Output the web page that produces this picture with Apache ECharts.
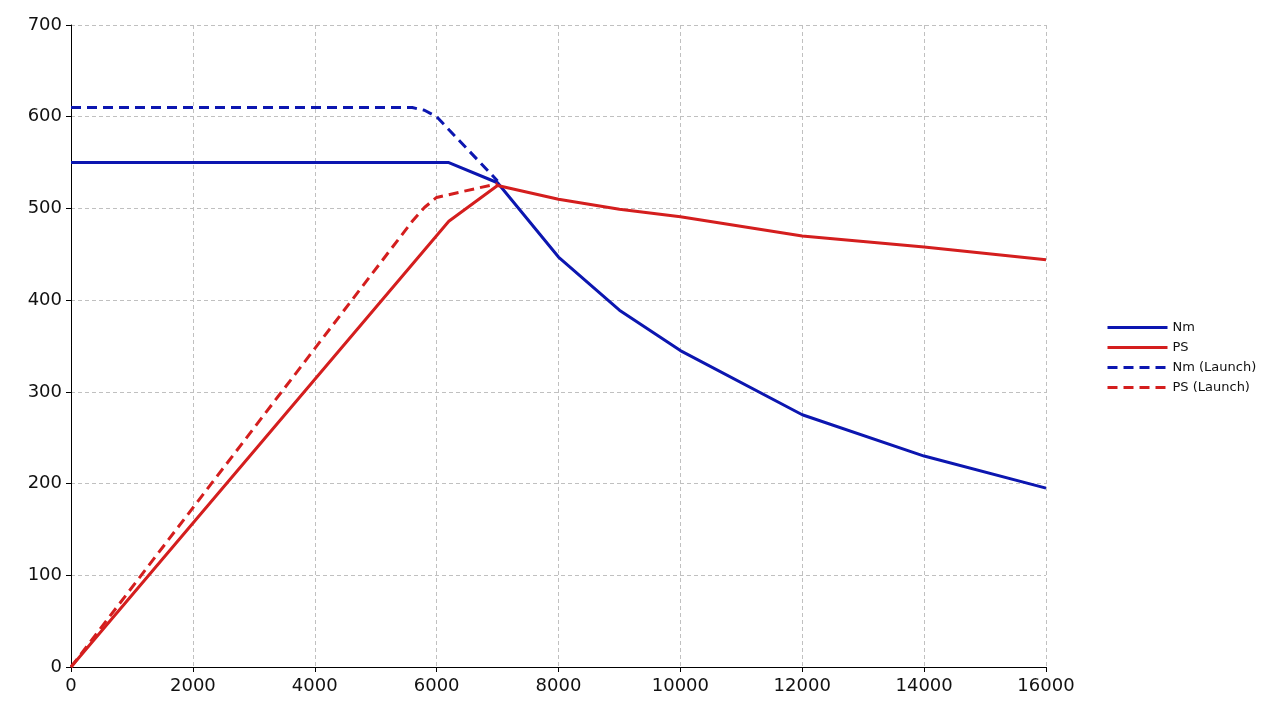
<!DOCTYPE html>
<html><head><meta charset="utf-8">
<script src="https://cdn.jsdelivr.net/npm/echarts@6/dist/echarts.min.js"></script>
<style>html,body{margin:0;padding:0;background:#fff}#c{width:1269px;height:714px}</style>
</head><body><div id="c"></div>
<script>
var seriesNames = ['Nm', 'PS', 'Nm (Launch)', 'PS (Launch)'];
var xTicks = [0, 2000, 4000, 6000, 8000, 10000, 12000, 14000, 16000];
var yTicks = [0, 100, 200, 300, 400, 500, 600, 700];
var nmData = [[0, 550], [6200, 550], [7000, 528], [8000, 447], [9000, 389], [10000, 345], [12000, 275], [14000, 230], [16000, 195]];
var psData = [[0, 0], [6200, 486], [7000, 525], [8000, 510], [9000, 499], [10000, 491], [12000, 470], [14000, 458], [16000, 444]];
var nmLaunch = [[0, 610], [5600, 610], [5800, 607], [6000, 600], [7000, 530]];
var psLaunch = [[0, 0], [5600, 486], [5800, 501], [6000, 512], [7000, 527]];

var blue = '#0c16b0', red = '#d41e1e';
var font = 'DejaVu Sans';
var chart = echarts.init(document.getElementById('c'), null, {renderer: 'canvas'});
function mk(name, data, color, dashed) {
  return {
    name: name, type: 'line', data: data, symbol: 'none', smooth: false,
    lineStyle: {color: color, width: 3, type: dashed ? [10, 6] : 'solid'},
    itemStyle: {color: color}
  };
}
chart.setOption({
  animation: false,
  grid: {left: 71, right: 223, top: 25, bottom: 47},
  legend: {
    orient: 'vertical', left: 1106, top: 321, padding: 0, itemWidth: 60, itemHeight: 14, itemGap: 7,
    itemStyle: {opacity: 0},
    lineStyle: {width: 3},
    textStyle: {fontFamily: font, fontSize: 13, color: '#111'},
    data: seriesNames
  },
  xAxis: {
    type: 'value', min: xTicks[0], max: xTicks[xTicks.length - 1], interval: 2000,
    axisLine: {lineStyle: {color: '#000', width: 1}},
    axisTick: {show: true, length: 5, lineStyle: {color: '#000'}},
    axisLabel: {fontFamily: font, fontSize: 18, color: '#111', margin: 10, formatter: function (v) { return String(v); }},
    splitLine: {show: true, lineStyle: {color: '#c0c0c0', type: [4, 3], width: 1}}
  },
  yAxis: {
    type: 'value', min: yTicks[0], max: yTicks[yTicks.length - 1], interval: 100,
    axisLine: {show: true, lineStyle: {color: '#000', width: 1}},
    axisTick: {show: true, length: 5, lineStyle: {color: '#000'}},
    axisLabel: {fontFamily: font, fontSize: 18, color: '#111', margin: 9},
    splitLine: {show: true, lineStyle: {color: '#c0c0c0', type: [4, 3], width: 1}}
  },
  series: [
    mk(seriesNames[0], nmData, blue, false),
    mk(seriesNames[1], psData, red, false),
    mk(seriesNames[2], nmLaunch, blue, true),
    mk(seriesNames[3], psLaunch, red, true)
  ]
});
</script></body></html>
